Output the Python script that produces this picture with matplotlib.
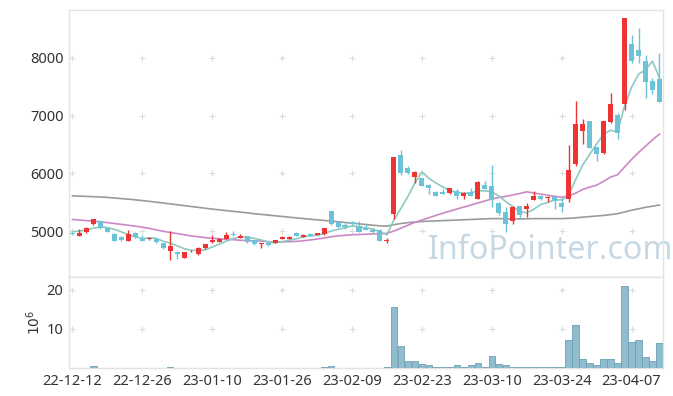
import matplotlib
matplotlib.use("Agg")
import matplotlib.pyplot as plt
import numpy as np

# --- data ---
tick_labels = ["22-12-12", "22-12-26", "23-01-10", "23-01-26", "23-02-09",
               "23-02-23", "23-03-10", "23-03-24", "23-04-07"]

opens = [4960, 4920, 4975, 5125, 5165, 5045, 4950, 4890, 4835, 4965,
         4870, 4855, 4860, 4785, 4660, 4640, 4530, 4645, 4600, 4700,
         4805, 4815, 4865, 4945, 4885, 4910, 4840, 4770, 4800, 4800,
         4860, 4865, 4965, 4900, 4950, 4930, 4940, 5350, 5150, 5110,
         5150, 5085, 5060, 5010, 5020, 4820, 5300, 6315, 6095, 5940,
         5915, 5800, 5680, 5680, 5655, 5690, 5615, 5670, 5555, 5805,
         5780, 5490, 5325, 5180, 5425, 5385, 5540, 5610, 5570, 5585,
         5485, 5550, 6160, 6740, 6905, 6450, 6360, 6895, 7010, 7195,
         8240, 8135, 7945, 7600, 7635]
highs = [4975, 5030, 5075, 5215, 5190, 5060, 4960, 4905, 5010, 4985,
         4930, 4890, 4870, 4800, 5000, 4650, 4635, 4670, 4720, 4775,
         4930, 4880, 4985, 5000, 4940, 4920, 4845, 4800, 4805, 4850,
         4905, 4910, 4975, 4940, 4960, 4965, 5060, 5355, 5160, 5140,
         5170, 5180, 5120, 5060, 5030, 4880, 6290, 6405, 6130, 6040,
         5920, 5810, 5690, 5720, 5745, 5720, 5670, 5740, 5860, 5860,
         6140, 5500, 5420, 5425, 5430, 5480, 5700, 5620, 5610, 5600,
         5580, 6490, 7260, 6940, 6910, 6460, 6910, 7400, 7050, 8700,
         8400, 8510, 8050, 7660, 8090]
lows = [4930, 4915, 4965, 5110, 5040, 4975, 4830, 4835, 4825, 4880,
        4825, 4850, 4800, 4690, 4500, 4510, 4525, 4635, 4590, 4695,
        4795, 4810, 4860, 4905, 4880, 4800, 4760, 4700, 4740, 4795,
        4855, 4860, 4905, 4895, 4910, 4925, 4935, 5110, 5060, 5040,
        5100, 4985, 5010, 4960, 4825, 4795, 5200, 5970, 5995, 5830,
        5780, 5650, 5600, 5640, 5650, 5560, 5555, 5610, 5550, 5725,
        5420, 5270, 4990, 5130, 5210, 5250, 5535, 5545, 5510, 5390,
        5335, 5510, 6130, 6500, 6440, 6210, 6340, 6880, 6600, 7100,
        7920, 7920, 7310, 7370, 7230]
closes = [4945, 4970, 5060, 5205, 5060, 4990, 4830, 4840, 4955, 4895,
          4830, 4880, 4805, 4700, 4740, 4595, 4630, 4660, 4710, 4770,
          4850, 4865, 4930, 4930, 4915, 4810, 4770, 4800, 4760, 4840,
          4900, 4900, 4915, 4935, 4920, 4960, 5050, 5130, 5075, 5065,
          5115, 4990, 5020, 4980, 4830, 4850, 6290, 6010, 6000, 6030,
          5785, 5740, 5615, 5645, 5740, 5615, 5665, 5615, 5855, 5730,
          5530, 5315, 5125, 5420, 5285, 5435, 5610, 5550, 5595, 5520,
          5420, 6055, 6855, 6855, 6445, 6330, 6905, 7200, 6695, 8700,
          7950, 8040, 7590, 7445, 7240]

ma5 = [4990, 5000, 5020, 5050, 5070, 5060, 5029, 4985, 4935, 4902,
       4870, 4880, 4873, 4822, 4791, 4744, 4694, 4665, 4667, 4673,
       4724, 4771, 4825, 4869, 4898, 4890, 4871, 4845, 4811, 4796,
       4814, 4840, 4863, 4898, 4914, 4926, 4956, 4999, 5027, 5056,
       5087, 5075, 5053, 5034, 4987, 4934, 5194, 5392, 5596, 5836,
       6023, 5913, 5834, 5763, 5705, 5671, 5656, 5656, 5698, 5696,
       5679, 5609, 5511, 5424, 5335, 5316, 5375, 5460, 5495, 5542,
       5539, 5628, 5889, 6141, 6326, 6508, 6678, 6747, 6715, 7166,
       7490, 7717, 7795, 7945, 7653]
ma20 = [5200, 5190, 5180, 5170, 5160, 5145, 5130, 5115, 5100, 5085,
        5065, 5045, 5020, 4995, 4975, 4955, 4935, 4915, 4900, 4885,
        4875, 4865, 4855, 4850, 4840, 4835, 4830, 4822, 4815, 4812,
        4812, 4815, 4820, 4830, 4845, 4860, 4880, 4900, 4915, 4925,
        4935, 4940, 4945, 4950, 4950, 4960, 5000, 5050, 5100, 5150,
        5190, 5230, 5270, 5310, 5345, 5380, 5415, 5450, 5485, 5520,
        5555, 5580, 5600, 5625, 5650, 5680, 5660, 5640, 5620, 5600,
        5585, 5610, 5655, 5720, 5760, 5795, 5860, 5935, 5975, 6110,
        6240, 6360, 6470, 6580, 6680]
ma60 = [5610, 5605, 5600, 5595, 5590, 5582, 5572, 5562, 5552, 5540,
        5527, 5514, 5500, 5485, 5470, 5455, 5440, 5425, 5410, 5395,
        5380, 5367, 5354, 5341, 5328, 5315, 5300, 5288, 5276, 5264,
        5252, 5240, 5228, 5216, 5205, 5194, 5183, 5172, 5160, 5148,
        5136, 5124, 5112, 5100, 5090, 5085, 5110, 5130, 5145, 5155,
        5165, 5170, 5175, 5180, 5185, 5190, 5195, 5200, 5205, 5210,
        5215, 5215, 5212, 5210, 5210, 5212, 5215, 5215, 5215, 5215,
        5215, 5220, 5228, 5240, 5250, 5260, 5270, 5285, 5300, 5330,
        5360, 5385, 5410, 5430, 5450]

# volume in millions of shares
volume = [0, 0, 0, 0.4, 0, 0, 0, 0, 0, 0,
          0, 0, 0, 0, 0.3, 0, 0, 0, 0, 0,
          0, 0, 0, 0, 0, 0, 0, 0, 0, 0,
          0, 0, 0, 0, 0, 0, 0.3, 0.6, 0, 0,
          0, 0, 0, 0, 0, 0.3, 15.6, 5.6, 1.7, 1.7,
          0.95, 0.7, 0.3, 0.3, 0.3, 0.7, 0.3, 0.7, 1.2, 0.3,
          3.2, 0.95, 0.7, 0.3, 0.3, 0.3, 0.3, 0.3, 0.3, 0.3,
          0.3, 7.1, 11.0, 2.2, 1.2, 0.7, 2.2, 2.2, 1.2, 21.0,
          6.7, 7.1, 2.7, 1.8, 6.3]

RED = "#EE3333"
BLUE = "#6CC3D8"
FRAME = "#E3E3E3"
TXT = "#333333"

plt.rcParams["font.family"] = ["Noto Sans", "DejaVu Sans"]

o = np.array(opens, float)
c = np.array(closes, float)
h = np.array(highs, float)
l = np.array(lows, float)
x = np.arange(len(c))
col = np.where(c >= o, RED, BLUE)

fig = plt.figure(figsize=(6.73, 3.96), dpi=100)
ax = fig.add_axes([0.1025, 0.3005, 0.8826, 0.6742])
axv = fig.add_axes([0.1025, 0.0707, 0.8826, 0.2298], sharex=ax)

# watermark
ax.text(0.604, 0.10, "InfoPointer.com", transform=ax.transAxes,
        fontsize=23.2, color="#C6D8E3", ha="left", va="center",
        zorder=0, clip_on=False)

# moving averages
ax.plot(x, ma60, color="#9A9A9A", lw=1.2, zorder=2)
ax.plot(x, ma20, color="#CC88C6", lw=1.2, zorder=2)
ax.plot(x, ma5, color="#8CCAC0", lw=1.2, zorder=2)

# candles
ax.vlines(x, l, h, colors=col, lw=1.0, zorder=3)
body = np.maximum(np.abs(c - o), 12)
ax.bar(x, body, bottom=np.minimum(o, c), width=0.72, color=col,
       linewidth=0, zorder=4)

ax.set_xlim(-0.5, 84.5)
ax.set_ylim(4203, 8830)
ax.set_yticks([5000, 6000, 7000, 8000])

# volume
axv.bar(x, volume, width=0.9, color="#8FBCCE", edgecolor="#6E9FB3",
        linewidth=0.6, zorder=3)
axv.set_ylim(0, 23.3)
axv.set_yticks([10, 20])
axv.set_ylabel("$10^6$", color=TXT, fontsize=10, labelpad=2)

xt = np.arange(0, len(c), 10)
axv.set_xticks(xt)
axv.set_xticklabels(tick_labels)

# "+" grid markers at tick intersections
for a, yt in ((ax, [5000, 6000, 7000, 8000]), (axv, [10, 20])):
    gx, gy = np.meshgrid(xt, yt)
    a.plot(gx.ravel(), gy.ravel(), "+", color="#DCDCDC", ms=5, mew=0.8,
           zorder=1)
    for s in a.spines.values():
        s.set_color(FRAME)
        s.set_linewidth(1.0)
    a.tick_params(length=0, labelsize=10.5, colors=TXT, pad=4)

ax.tick_params(labelbottom=False)

fig.savefig("out.png", dpi=100)
